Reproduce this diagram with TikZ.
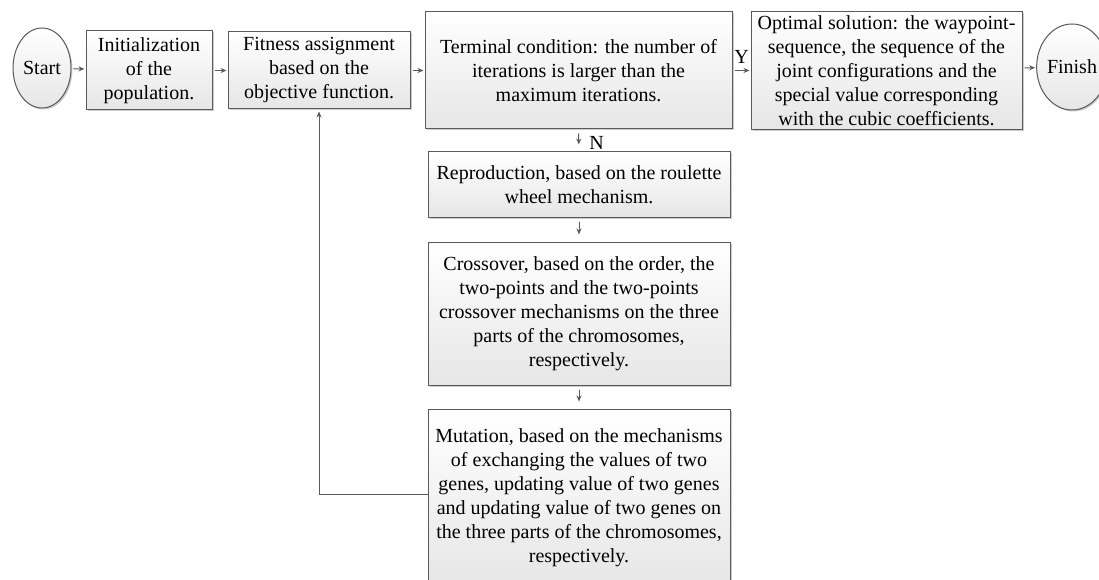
\documentclass[tikz,border=0pt]{standalone}
\usepackage{fontspec}
\setmainfont{Liberation Serif}
\usetikzlibrary{arrows.meta,shadows,shapes.geometric}
\definecolor{edgec}{HTML}{5A5A5A}
\definecolor{boxbot}{HTML}{E6E6E6}
\tikzset{
  base/.style={draw=edgec, line width=1pt, top color=white, bottom color=boxbot,
    font=\fontsize{20}{24}\selectfont, align=center, inner sep=0pt,
    drop shadow={shadow xshift=1.5pt, shadow yshift=-1.5pt, fill=black, opacity=0.2}},
  box/.style={base, rectangle},
  term/.style={base, ellipse},
  arr/.style={draw=edgec, line width=1pt, -{Stealth[length=6pt,width=5pt]}},
  harr/.style={arr, shorten <=2pt, shorten >=1pt},
  varr/.style={arr, shorten <=4pt, shorten >=7pt},
  lab/.style={font=\fontsize{20}{24}\selectfont, inner sep=0pt, text=black}
}
\begin{document}
\begin{tikzpicture}[x=1pt,y=-1pt]
\clip (0,0) rectangle (1099,580);
\fill[white] (0,0) rectangle (1099,580);

\node[term, minimum width=58pt, minimum height=80pt] (start) at (42,68) {Start};
\node[box, minimum width=126pt, minimum height=79pt] (init) at (149,70.5)
  {Initialization\\of the\\population.};
\node[box, minimum width=182pt, minimum height=77pt] (fit) at (319,70.5)
  {Fitness assignment\\based on the\\objective function.};
\node[box, minimum width=307pt, minimum height=117pt] (term) at (578.5,70.5)
  {Terminal condition: the number of\\iterations is larger than the\\maximum iterations.};
\node[box, minimum width=271pt, minimum height=118pt] (opt) at (886.5,70.5)
  {Optimal solution: the waypoint-\\sequence, the sequence of the\\joint configurations and the\\special value corresponding\\with the cubic coefficients.};
\node[term, minimum width=68pt, minimum height=86pt] (fin) at (1072,67) {Finish};

\node[box, minimum width=302pt, minimum height=65pt] (repro) at (579,184.5)
  {Reproduction, based on the roulette\\wheel mechanism.};
\node[box, minimum width=302pt, minimum height=143pt] (cross) at (579,313.5)
  {Crossover, based on the order, the\\two-points and the two-points\\crossover mechanisms on the three\\parts of the chromosomes,\\respectively.};
\node[box, minimum width=302pt, minimum height=177pt] (mut) at (579,497.5)
  {Mutation, based on the mechanisms\\of exchanging the values of two\\genes, updating value of two genes\\and updating value of two genes on\\the three parts of the chromosomes,\\respectively.};

\draw[harr] (start) -- (init);
\draw[harr] (init) -- (fit);
\draw[harr] (fit) -- (term);
\draw[harr] (term) -- node[lab, above=6pt] (ylab) {Y} (opt);
\draw[harr] (opt) -- (fin);
\draw[varr] (term.south) -- node[lab, right=10pt, pos=0.6] (nlab) {N} (repro.north);
\draw[varr] (repro.south) -- (cross.north);
\draw[varr] (cross.south) -- (mut.north);
\draw[arr, shorten >=2pt] ([yshift=3.5pt]mut.west) -| (fit.south);
\end{tikzpicture}
\end{document}
